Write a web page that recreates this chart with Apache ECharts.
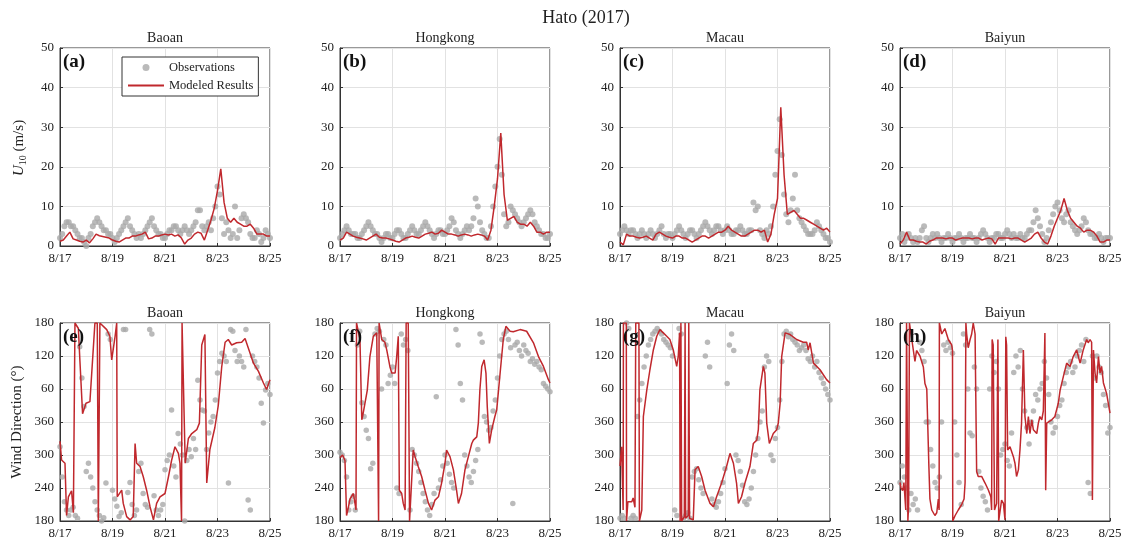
<!DOCTYPE html>
<html><head><meta charset="utf-8">
<script src="https://cdn.jsdelivr.net/npm/echarts@6/dist/echarts.min.js"></script>
<style>html,body{margin:0;padding:0;background:#fff}#c{width:1128px;height:550px}</style>
</head><body><div id="c"></div>
<script>
// ---------- DATA ----------
const MAIN_TITLE = 'Hato (2017)';
const STATIONS = ['Baoan', 'Hongkong', 'Macau', 'Baiyun'];
const SPEED_TAGS = ['(a)', '(b)', '(c)', '(d)'];
const DIR_TAGS = ['(e)', '(f)', '(g)', '(h)'];
const DATE_TICKS = ['8/17', '8/19', '8/21', '8/23', '8/25'];   // every 2 days, day 0..8
const DIR_TICK_LABELS = ['180', '240', '300', '360', '60', '120', '180']; // 180..540 wrapped
const MODEL_STEP = 0.125;  // days (3-hourly model output)
const OBS_STEP = 1 / 12;   // days (2-hourly observations)

// U10 modeled (m/s), 3-hourly from 8/17 00:00 to 8/25 00:00
const baoanSpeedModel = [1.2,1.5,2.5,3.5,1.8,1.5,1.2,1.0, 1.5,0.8,1.8,3.0,2.6,2.4,2.2,2.0, 1.5,1.2,1.0,1.5,2.0,2.0,2.5,2.5, 2.8,3.0,3.5,1.8,2.0,2.5,2.5,2.8, 3.0,2.8,3.0,2.5,2.8,2.0,0.5,1.5, 2.0,3.0,3.5,3.2,1.5,4.0,6.5,9.5, 14,19.5,11,7,6,7,6,5.5, 5.0,5.0,5.5,4.5,3.0,3.0,3.0,2.5, 2.5];
const hongkongSpeedModel = [1.5,2.0,3.5,3.0,2.5,2.2,2.0,1.8, 1.5,2.0,2.5,3.0,2.2,2.0,2.0,1.8, 1.5,1.2,1.0,1.5,2.0,2.2,2.5,2.2, 2.0,2.5,3.0,3.2,3.5,3.0,3.2,4.0, 3.5,3.0,3.0,2.8,2.5,2.8,3.0,2.8, 2.5,2.8,3.0,2.8,2.5,1.5,4.0,10, 17,28.5,13,6.5,7,7.5,6,5.5, 5.5,5.0,6.0,5.0,3.5,3.5,3.0,3.5, 3.5];
const macauSpeedModel = [1.0,0.3,3.0,2.5,2.5,2.2,2.0,2.2, 2.5,2.0,1.5,3.0,3.5,3.0,2.5,2.2, 2.0,2.5,2.5,2.0,2.0,1.5,1.0,1.5, 2.0,2.5,2.5,2.0,2.5,3.0,3.5,3.5, 4.0,5.0,4.0,3.5,3.0,2.5,2.5,3.0, 3.5,4.0,4.0,3.5,4.0,1.0,3.0,8.0, 12,35,18,8.0,8.5,9.0,8.0,7.0, 7.0,6.5,6.0,5.5,5.0,4.5,4.0,4.5, 3.5];
const baiyunSpeedModel = [0.5,1.5,3.5,1.5,1.5,1.2,1.0,1.0, 0.5,1.2,1.5,2.0,2.0,2.0,1.8,2.0, 2.0,1.5,1.8,2.0,2.0,2.0,1.8,2.0, 2.0,1.5,1.8,2.0,1.8,0.5,2.0,2.0, 2.0,2.0,1.8,2.0,2.0,1.5,1.0,1.5, 2.0,3.0,3.5,2.0,1.0,0.5,2.5,5.0, 7.0,9.0,12.0,9.0,7.0,6.0,5.0,4.5, 3.5,4.0,4.0,3.5,2.5,1.0,1.0,1.5, 1.5];

// U10 observed (m/s), 2-hourly
const baoanSpeedObs = [2,3,5,6,6,5,5,4,3,2,2,1, 0,2,3,5,6,7,6,5,4,4,3,3, 2,1,2,3,4,5,6,7,5,4,3,2, 3,2,3,4,5,6,7,5,4,3,3,2, 2,3,4,4,5,5,4,3,4,5,4,3, 4,5,6,9,9,5,4,5,6,4,7,10, 15,13,7,3,6,4,2,3,10,2,4,7, 8,7,6,3,2,2,4,3,1,2,4,3, 2];
const hongkongSpeedObs = [2,3,4,5,4,3,3,3,2,2,3,4, 5,6,5,4,3,3,2,1,2,3,3,2, 2,3,4,4,3,2,2,3,4,5,4,3, 3,4,5,6,5,4,3,2,3,4,4,3, 3,4,5,7,6,4,3,2,3,4,5,4, 5,7,12,10,6,4,3,2,2,5,10,15, 20,27,18,8,5,6,10,9,8,7,6,5, 6,7,8,9,8,6,5,4,3,3,2,2, 3];
const macauSpeedObs = [3,4,5,4,3,4,4,3,2,3,4,3, 2,3,4,3,2,3,4,5,3,2,3,3, 2,3,4,5,4,3,2,3,4,4,3,2, 3,4,5,6,5,4,3,4,5,5,4,3, 4,5,4,3,3,4,4,5,4,3,3,4, 4,11,9,10,4,3,2,4,3,5,10,18, 24,32,23,13,8,6,9,12,18,9,7,6, 5,4,3,3,3,4,6,5,4,3,2,2, 1];
const baiyunSpeedObs = [2,3,1,2,3,2,1,2,1,2,4,5, 2,1,2,3,2,3,2,1,2,2,3,2, 1,2,2,3,2,1,2,2,3,2,2,1, 2,3,4,3,2,1,2,2,3,3,2,2, 3,4,3,2,3,2,2,3,2,2,3,4, 4,6,9,7,5,3,1,2,4,6,8,10, 11,9,7,6,8,9,6,5,4,3,4,5, 7,6,4,3,3,2,2,3,2,1,2,2, 2];

// Wind direction modeled, [day, unwrapped degrees 180..540]
const baoanDirModel = [[0,325],[0.06,291],[0.19,285],[0.25,190],[0.32,224],[0.44,235],[0.51,195],[0.57,540],[0.70,530],[0.76,470],[0.86,375],[0.99,394],[1.14,397],[1.33,540],[1.42,540],[1.46,180],[1.52,540],[1.78,528],[1.90,516],[1.97,473],[2.10,516],[2.16,540],[2.18,224],[2.35,236],[2.41,212],[2.54,188],[2.67,182],[2.79,188],[2.86,321],[2.92,285],[3.05,279],[3.17,261],[3.30,236],[3.43,206],[3.56,182],[3.68,212],[3.81,224],[4.0,230],[4.13,260],[4.25,290],[4.38,315],[4.51,303],[4.57,285],[4.63,180],[4.65,540],[4.72,540],[4.77,285],[4.89,330],[5.02,339],[5.21,346],[5.31,358],[5.40,500],[5.52,519],[5.59,249],[5.71,310],[5.90,350],[6.03,390],[6.16,460],[6.29,505],[6.41,510],[6.54,500],[6.73,504],[6.92,505],[7.05,512],[7.17,495],[7.37,467],[7.56,452],[7.75,431],[7.87,419],[8.0,437]];
const hongkongDirModel = [[0,295],[0.10,300],[0.19,290],[0.25,190],[0.32,205],[0.38,220],[0.51,230],[0.57,233],[0.61,200],[0.63,540],[0.76,510],[0.83,364],[0.86,370],[0.95,394],[1.04,418],[1.14,479],[1.27,516],[1.40,522],[1.46,520],[1.47,180],[1.49,540],[1.59,510],[1.71,505],[1.78,491],[1.90,461],[1.97,449],[2.10,449],[2.16,479],[2.22,516],[2.26,236],[2.35,230],[2.41,212],[2.48,200],[2.52,540],[2.60,540],[2.65,180],[2.79,309],[2.86,297],[2.98,279],[3.11,261],[3.24,236],[3.37,212],[3.49,200],[3.62,218],[3.75,224],[3.87,249],[4.0,285],[4.06,309],[4.19,297],[4.32,273],[4.44,236],[4.51,212],[4.63,230],[4.76,273],[4.89,297],[5.02,321],[5.08,327],[5.21,333],[5.27,358],[5.33,419],[5.40,461],[5.49,473],[5.56,449],[5.61,388],[5.69,321],[5.78,346],[5.90,370],[5.97,382],[6.10,449],[6.22,510],[6.32,534],[6.48,525],[6.60,524],[6.86,528],[7.11,525],[7.37,504],[7.56,479],[7.75,461],[7.94,437],[8.0,431]];
const macauDirModel = [[0,280],[0.06,315],[0.12,200],[0.13,540],[0.24,540],[0.25,180],[0.30,215],[0.45,215],[0.50,222],[0.57,205],[0.60,540],[0.72,540],[0.74,180],[0.83,200],[0.89,370],[1.02,418],[1.14,455],[1.27,491],[1.40,516],[1.52,528],[1.65,522],[1.78,516],[1.90,510],[2.03,491],[2.16,461],[2.22,480],[2.27,522],[2.29,180],[2.32,540],[2.35,180],[2.45,188],[2.48,540],[2.50,185],[2.60,190],[2.62,540],[2.65,185],[2.79,182],[2.86,273],[2.92,276],[2.98,279],[3.11,261],[3.24,236],[3.43,212],[3.56,206],[3.68,224],[3.87,249],[4.06,279],[4.19,303],[4.32,285],[4.44,249],[4.51,212],[4.63,224],[4.76,249],[4.95,279],[5.08,321],[5.21,327],[5.27,346],[5.33,419],[5.46,461],[5.52,449],[5.59,358],[5.69,321],[5.84,339],[5.97,346],[6.03,358],[6.10,394],[6.16,479],[6.29,522],[6.48,519],[6.73,510],[6.98,505],[7.11,505],[7.17,491],[7.24,504],[7.37,467],[7.62,455],[7.87,437],[8.0,431]];
const baiyunDirModel = [[0,250],[0.04,240],[0.10,235],[0.15,250],[0.22,200],[0.25,540],[0.30,180],[0.33,210],[0.36,540],[0.45,510],[0.57,470],[0.63,490],[0.76,480],[0.89,460],[0.95,430],[1.02,420],[1.10,280],[1.14,220],[1.21,200],[1.33,190],[1.40,195],[1.46,220],[1.49,200],[1.50,540],[1.59,520],[1.71,530],[1.84,510],[1.97,500],[2.00,490],[2.01,180],[2.10,190],[2.22,200],[2.35,210],[2.44,220],[2.48,250],[2.51,540],[2.54,520],[2.60,495],[2.67,510],[2.73,520],[2.79,540],[2.86,520],[2.92,270],[2.98,261],[3.11,261],[3.24,249],[3.37,236],[3.46,224],[3.49,200],[3.51,510],[3.55,500],[3.60,200],[3.68,212],[3.73,510],[3.76,180],[3.87,218],[3.94,212],[4.00,182],[4.03,515],[4.06,500],[4.10,309],[4.19,315],[4.32,297],[4.38,285],[4.44,261],[4.51,273],[4.57,309],[4.63,358],[4.70,491],[4.76,370],[4.83,339],[4.89,370],[4.95,339],[5.02,364],[5.08,346],[5.21,339],[5.27,358],[5.33,370],[5.40,364],[5.46,380],[5.52,522],[5.55,236],[5.59,358],[5.78,364],[5.90,370],[6.03,394],[6.10,418],[6.22,442],[6.35,467],[6.48,461],[6.60,479],[6.73,491],[6.86,467],[6.92,479],[6.98,491],[7.11,510],[7.17,504],[7.24,510],[7.30,505],[7.33,218],[7.37,491],[7.43,449],[7.49,431],[7.56,479],[7.62,449],[7.68,461],[7.75,431],[7.87,412],[8.00,376]];

// Wind direction observed, 2-hourly, unwrapped degrees 180..540
const baoanDirObs = [315,260,215,200,190,200,205,190,185,497,440,388, 270,285,260,240,215,200,190,180,186,249,520,510, 236,220,207,188,195,528,528,232,250,210,190,200, 270,285,230,210,205,528,520,226,200,190,200,210, 273,290,300,382,280,260,339,320,300,180,290,310, 297,330,310,436,400,382,380,310,340,360,370,400, 449,470,485,480,470,249,528,525,490,470,480,470, 460,528,218,200,480,470,460,440,394,358,418,430, 410];
const hongkongDirObs = [305,300,290,260,200,215,225,200,500,525,395,370, 345,330,275,285,520,530,525,420,510,500,430,445, 460,430,240,230,520,500,510,490,200,310,300,285, 270,250,230,215,200,190,210,230,406,240,255,280, 300,285,265,250,240,528,500,430,400,300,280,260, 250,270,290,310,520,505,370,360,345,350,380,400, 440,480,510,520,525,510,495,212,500,505,490,480, 500,490,485,470,475,465,470,460,455,430,425,420, 415];
const macauDirObs = [185,190,185,540,530,185,190,185,370,400,430,460, 480,500,510,520,525,530,525,520,510,505,500,495, 480,200,190,530,520,185,190,195,185,260,270,275, 255,240,230,480,505,460,220,210,205,215,230,250, 275,430,500,520,490,300,290,270,245,215,210,220, 240,270,300,330,360,380,460,480,470,300,290,330, 350,400,470,520,525,515,520,510,505,500,490,495, 500,490,475,470,480,460,470,450,440,430,420,410, 400];
const baiyunDirObs = [250,280,260,240,200,230,210,220,200,505,490,470, 360,360,310,280,250,240,260,360,500,490,505,495, 485,360,300,250,210,520,500,420,340,335,460,420, 270,240,225,215,200,420,480,450,470,420,300,310, 320,290,280,340,450,480,460,490,420,380,350,320, 360,380,410,400,420,430,470,440,410,360,340,350, 370,390,400,430,450,460,470,450,460,480,490,500, 470,510,250,230,480,440,480,460,450,410,390,340, 350];

const speedModels = [baoanSpeedModel, hongkongSpeedModel, macauSpeedModel, baiyunSpeedModel];
const speedObs = [baoanSpeedObs, hongkongSpeedObs, macauSpeedObs, baiyunSpeedObs];
const dirModels = [baoanDirModel, hongkongDirModel, macauDirModel, baiyunDirModel];
const dirObs = [baoanDirObs, hongkongDirObs, macauDirObs, baiyunDirObs];

// ---------- STYLE / LAYOUT ----------
const FONT = '"Liberation Serif","Times New Roman",serif';
const RED = '#c0282d';
const GREY = '#a9a9a9';
const AX = '#333';
const GRIDC = '#e2e2e2';
const LEFTS = [60, 340, 620, 900];
const TOPS = [48, 323];
const PW = 210, PH = 198;

const grids = [], xAxes = [], yAxes = [], series = [], graphics = [];

for (let r = 0; r < 2; r++) {
  for (let c = 0; c < 4; c++) {
    const gi = r * 4 + c;
    grids.push({left: LEFTS[c], top: TOPS[r], width: PW, height: PH, show: true, borderColor: AX, borderWidth: 1, backgroundColor: 'transparent'});
    xAxes.push({
      gridIndex: gi, type: 'value', min: 0, max: 8, interval: 2,
      axisLine: {show: true, onZero: false, lineStyle: {color: AX}},
      axisTick: {show: true, inside: true, length: 3, lineStyle: {color: AX}},
      axisLabel: {formatter: v => DATE_TICKS[Math.round(v / 2)], color: '#222', fontFamily: FONT, fontSize: 13, margin: 6},
      splitLine: {show: true, lineStyle: {color: GRIDC}}
    });
    const y = r === 0
      ? {min: 0, max: 50, interval: 10, axisLabel: {formatter: v => String(v)}}
      : {min: 180, max: 540, interval: 60, axisLabel: {formatter: v => DIR_TICK_LABELS[Math.round((v - 180) / 60)]}};
    yAxes.push({
      gridIndex: gi, type: 'value', min: y.min, max: y.max, interval: y.interval,
      axisLine: {show: true, onZero: false, lineStyle: {color: AX}},
      axisTick: {show: true, inside: true, length: 3, lineStyle: {color: AX}},
      axisLabel: Object.assign({color: '#222', fontFamily: FONT, fontSize: 13, margin: 6}, y.axisLabel),
      splitLine: {show: true, lineStyle: {color: GRIDC}}
    });
    if (r === 0) {
      series.push({type: 'scatter', name: 'Observations', xAxisIndex: gi, yAxisIndex: gi, symbolSize: 6,
        itemStyle: {color: GREY}, z: 2,
        data: speedObs[c].map((v, i) => [i * OBS_STEP, v])});
      series.push({type: 'line', name: 'Modeled Results', xAxisIndex: gi, yAxisIndex: gi, symbol: 'none',
        lineStyle: {color: RED, width: 1.5}, itemStyle: {color: RED}, z: 3,
        data: speedModels[c].map((v, i) => [i * MODEL_STEP, v])});
    } else {
      series.push({type: 'scatter', name: 'Observations', xAxisIndex: gi, yAxisIndex: gi, symbolSize: 5.5,
        itemStyle: {color: GREY}, z: 2,
        data: dirObs[c].map((v, i) => [i * OBS_STEP, v])});
      series.push({type: 'line', name: 'Modeled Results', xAxisIndex: gi, yAxisIndex: gi, symbol: 'none',
        lineStyle: {color: RED, width: 1.5}, itemStyle: {color: RED}, z: 3,
        data: dirModels[c]});
    }
    graphics.push({type: 'text', x: LEFTS[c] + PW / 2, y: TOPS[r] - 10, z: 10,
      style: {text: STATIONS[c], fill: '#222', font: '14px ' + FONT, textAlign: 'center', textVerticalAlign: 'middle'}});
    graphics.push({type: 'text', x: LEFTS[c] + 3, y: TOPS[r] + 14, z: 10,
      style: {text: (r === 0 ? SPEED_TAGS : DIR_TAGS)[c], fill: '#111', font: 'bold 19px ' + FONT, textAlign: 'left', textVerticalAlign: 'middle'}});
  }
}

graphics.push({type: 'text', x: 586, y: 18, z: 10,
  style: {text: MAIN_TITLE, fill: '#222', font: '18px ' + FONT, textAlign: 'center', textVerticalAlign: 'middle'}});
graphics.push({type: 'text', x: 19, y: 148, rotation: Math.PI / 2, z: 10,
  style: {text: '{u|U}{s|10}{n| (m/s)}', textAlign: 'center', textVerticalAlign: 'middle',
    rich: {u: {fontFamily: FONT, fontSize: 15, fontStyle: 'italic', fill: '#222', color: '#222'},
           s: {fontFamily: FONT, fontSize: 10, fill: '#222', color: '#222', padding: [8, 0, 0, 0]},
           n: {fontFamily: FONT, fontSize: 15, fill: '#222', color: '#222'}}}});
graphics.push({type: 'text', x: 17, y: 422, rotation: Math.PI / 2, z: 10,
  style: {text: 'Wind Direction (°)', fill: '#222', font: '15px ' + FONT, textAlign: 'center', textVerticalAlign: 'middle'}});

const chart = echarts.init(document.getElementById('c'), null, {renderer: 'canvas'});
chart.setOption({
  animation: false,
  backgroundColor: '#fff',
  grid: grids, xAxis: xAxes, yAxis: yAxes, series: series,
  legend: {left: 122, top: 57, orient: 'vertical', selectedMode: false,
    data: [{name: 'Observations', icon: 'circle'}, {name: 'Modeled Results', itemStyle: {opacity: 0}}],
    itemWidth: 36, itemHeight: 7, itemGap: 5, padding: [4, 5, 4, 5],
    borderColor: AX, borderWidth: 1, backgroundColor: '#fff',
    textStyle: {fontFamily: FONT, fontSize: 12.5, color: '#222'}},
  graphic: graphics
});
</script></body></html>
